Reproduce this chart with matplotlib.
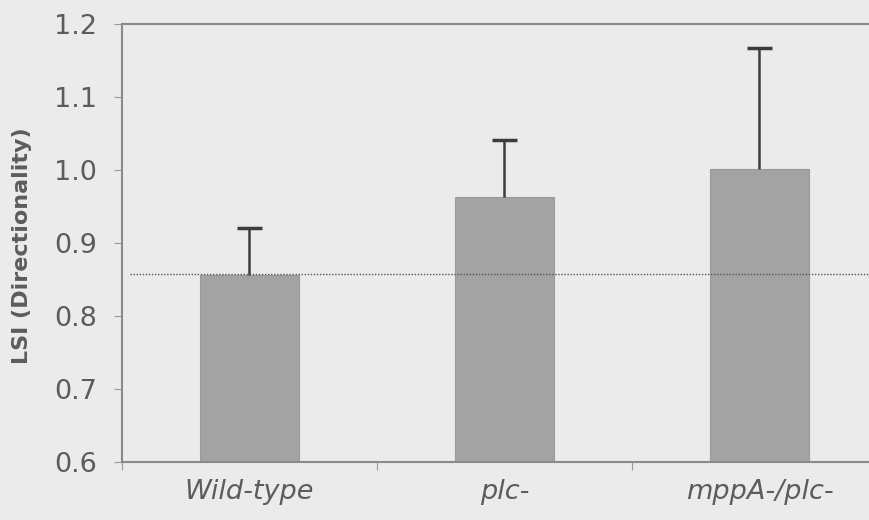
import matplotlib.pyplot as plt
import numpy as np

categories = ['Wild-type', 'plc-', 'mppA-/plc-']
lsi_mean = [0.856, 0.963, 1.002]
lsi_err = [0.065, 0.078, 0.165]
baseline = 0.857

bg = '#ebebeb'
txt = '#5c5c5c'

fig = plt.figure(figsize=(8.69, 5.2), dpi=100, facecolor=bg)
ax = fig.add_axes([122 / 869, 1 - 462 / 520, (887 - 122) / 869, (462 - 24) / 520])
ax.set_facecolor(bg)

x = np.arange(len(categories)) + 0.5
ax.bar(x, np.array(lsi_mean) - 0.6, bottom=0.6, width=0.39,
       color='#a3a3a3', edgecolor='#9a9a9a', linewidth=0.8, zorder=2)
eb = ax.errorbar(x, lsi_mean, yerr=[np.zeros(3), lsi_err], fmt='none',
                 ecolor='#3c3c3c', elinewidth=1.8, capsize=9, capthick=2.5, zorder=3)
eb[1][0].set_visible(False)  # only upper caps
ax.axhline(baseline, xmin=0.01, color='#555555', linestyle=(0, (1, 1.2)),
           linewidth=1, zorder=4)

ax.set_xlim(0, 3)
ax.set_ylim(0.6, 1.2)
ax.set_yticks(np.arange(0.6, 1.21, 0.1))
ax.set_yticklabels([f'{v:.1f}' for v in np.arange(0.6, 1.21, 0.1)])
ax.set_xticks([0, 1, 2, 3])
ax.set_xticklabels([])
ax.set_xticks(x, minor=True)
ax.set_xticklabels(categories, minor=True, style='italic', fontsize=19.5, color=txt)
ax.tick_params(axis='x', which='minor', length=0, pad=12)
ax.tick_params(axis='x', which='major', length=6, color='#999999', direction='out')
ax.tick_params(axis='y', length=6, color='#999999', labelsize=19.5, labelcolor=txt, pad=12)

for s in ax.spines.values():
    s.set_color('#8a8a8a')
    s.set_linewidth(1.5)

ax.set_ylabel('LSI (Directionality)', fontsize=16, fontweight='bold', color=txt)
ax.yaxis.set_label_coords(-0.117, 0.495)

plt.savefig('out.png', dpi=100, facecolor=bg)
